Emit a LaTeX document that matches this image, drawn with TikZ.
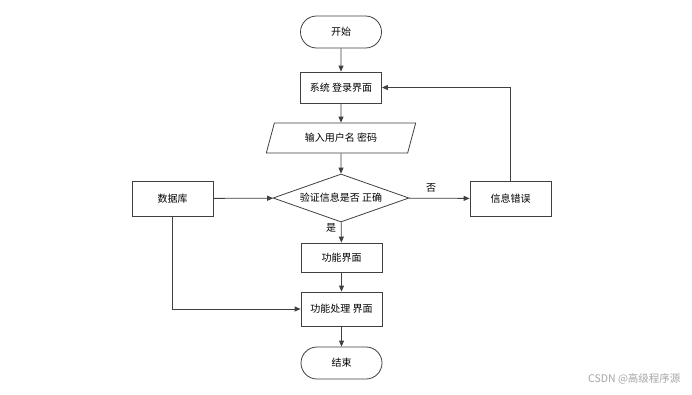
\documentclass[tikz,border=0pt]{standalone}
\usepackage{fontspec}
\setmainfont{Noto Sans CJK SC}
\usetikzlibrary{arrows.meta,shapes.geometric,shapes.misc}
\definecolor{lc}{HTML}{404040}
\tikzset{
  box/.style={draw=lc,line width=0.8pt,fill=white,minimum width=81pt,minimum height=31pt,inner sep=0pt,font=\fontsize{10}{12}\selectfont},
  term/.style={box,rounded rectangle,minimum width=81pt,minimum height=32pt},
  para/.style={box,trapezium,trapezium left angle=65,trapezium right angle=115,minimum width=150pt,minimum height=30pt,trapezium stretches=true},
  dec/.style={box,diamond,aspect=2.83,minimum width=136pt,minimum height=48pt},
  arr/.style={draw=lc,line width=0.8pt,-{Triangle[length=6pt,width=5pt]}},
  lbl/.style={font=\fontsize{10}{12}\selectfont,inner sep=0pt}
}
\begin{document}
\begin{tikzpicture}[x=1pt,y=-1pt]
\useasboundingbox[fill=white] (0,0) rectangle (692,394);
\node[term] (start) at (341,32) {开始};
\node[box,minimum height=31pt] (login) at (341,87.5) {系统 登录界面};
\node[para] (input) at (341,138) {输入用户名 密码};
\node[dec] (check) at (341,198) {验证信息是否 正确};
\node[box,minimum height=35pt] (db) at (172.5,198.5) {数据库};
\node[box,minimum height=35pt] (err) at (510.5,198.5) {信息错误};
\node[box,minimum height=29pt] (func) at (341.5,257.5) {功能界面};
\node[box,minimum height=34pt] (proc) at (341.5,309) {功能处理 界面};
\node[term] (end) at (341.5,363) {结束};
\draw[arr] (start) -- (login);
\draw[arr] (login) -- (input);
\draw[arr] (input) -- (check);
\draw[arr] (db) -- (check);
\draw[arr] (check) -- (err);
\node[lbl] (no) at (431,188) {否};
\draw[arr] (check) -- (func);
\node[lbl] (yes) at (331,228) {是};
\draw[arr] (func) -- (proc);
\draw[arr] (proc) -- (end);
\draw[arr] (db.south) |- (proc.west);
\draw[arr] (err.north) |- (login.east);
\node[font=\fontsize{10.5}{12}\selectfont,text=black!35,anchor=east] (wm) at (684,379) {CSDN @高级程序源};
\end{tikzpicture}
\end{document}
